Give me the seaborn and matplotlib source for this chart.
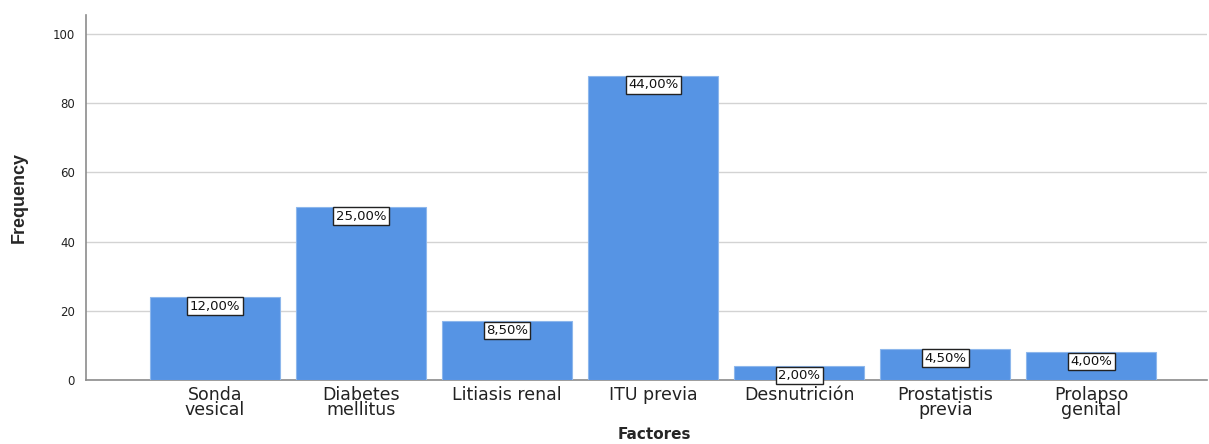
import matplotlib
matplotlib.use("Agg")
import matplotlib.pyplot as plt
import seaborn as sns
import pandas as pd
import numpy as np

# Risk factors and their counts
factores = ["Sonda\nvesical", "Diabetes\nmellitus", "Litiasis renal", "ITU previa",
            "Desnutrición", "Prostatistis\nprevia", "Prolapso\ngenital"]
frecuencia = [24, 50, 17, 88, 4, 9, 8]
y_ticks = [0, 20, 40, 60, 80, 100]

df = pd.DataFrame({"Factores": factores, "Frequency": frecuencia})
porcentaje = np.array(frecuencia) / sum(frecuencia) * 100

sns.set_style("white")
plt.rcParams["font.family"] = ["DejaVu Sans"]

fig = plt.figure(figsize=(12.09, 4.44), dpi=100)
ax = fig.add_axes([0.0711, 0.1441, 0.9269, 0.822])

sns.barplot(data=df, x="Factores", y="Frequency", color="#5694E4", saturation=1,
            width=0.89, edgecolor="#8DB7EC", linewidth=0.8, ax=ax, zorder=3)

ax.set_xlim(-0.884, 6.79)
ax.set_ylim(0, 105.5)
ax.set_yticks(y_ticks)
ax.yaxis.grid(True, color="#D3D3D3", linewidth=1.0, zorder=0)
ax.xaxis.grid(False)
ax.set_axisbelow(True)

for s in ["top", "right"]:
    ax.spines[s].set_visible(False)
for s in ["left", "bottom"]:
    ax.spines[s].set_color("#8C8C8C")
    ax.spines[s].set_linewidth(1.2)

ax.tick_params(axis="both", length=0)
ax.tick_params(axis="y", labelsize=8.5, pad=8, labelcolor="#222222")
ax.tick_params(axis="x", labelsize=12.5, pad=4, labelcolor="#222222")
for lab in ax.get_xticklabels():
    lab.set_linespacing(0.85)

ax.set_ylabel("Frequency", fontsize=13, fontweight="bold",
              family=["Liberation Sans Narrow", "Liberation Sans"])
ax.yaxis.set_label_coords(-0.052, 0.5)
ax.set_xlabel("Factores", fontsize=11, fontweight="bold")
ax.xaxis.set_label_coords(0.507, -0.13)

# Percentage label boxes on top of each bar
for i, (f, p) in enumerate(zip(frecuencia, porcentaje)):
    txt = f"{p:.2f}".replace(".", ",") + "%"
    ax.annotate(txt, xy=(i, f), xytext=(0, -2), textcoords="offset points",
                ha="center", va="top", fontsize=9.5, color="#111111", zorder=5,
                bbox=dict(boxstyle="square,pad=0.18", facecolor="white",
                          edgecolor="#222222", linewidth=1.0))

fig.savefig("out.png", dpi=100)
